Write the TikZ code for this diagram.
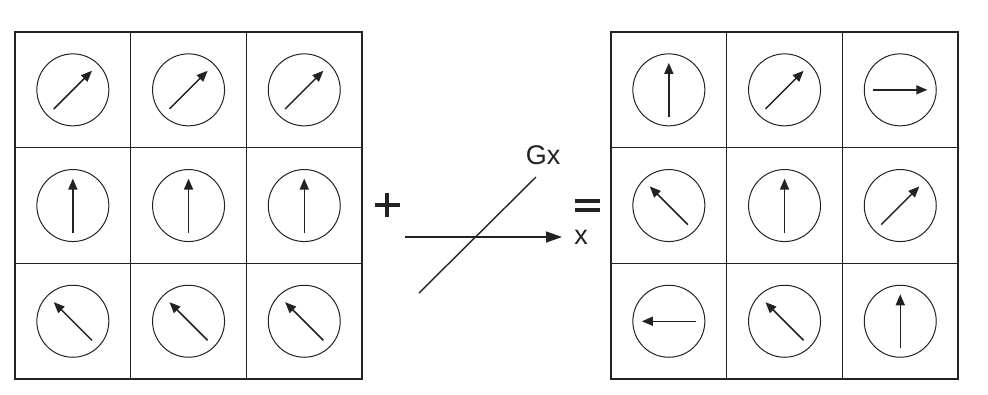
\documentclass[tikz,border=0pt]{standalone}
\usepackage{fontspec}
\setmainfont{Liberation Sans}
\usetikzlibrary{arrows.meta,calc}
\definecolor{ink}{HTML}{222222}
\newcommand\spingrid[3]{%
  \foreach \a [count=\i from 0] in {#3} {
    \pgfmathtruncatemacro\r{div(\i,3)}
    \pgfmathtruncatemacro\c{mod(\i,3)}
    \node[cellbox] (#1c\i) at ({#2+115.7*(\c+0.5)},{32+115.7*(\r+0.5)}) {};
    \node[dial] (#1d\i) at (#1c\i) {};
    \coordinate (#1s\i) at ($(#1d\i)+({-27*cos(\a)},{27*sin(\a)})$);
    \coordinate (#1e\i) at ($(#1d\i)+({27*cos(\a)},{-27*sin(\a)})$);
    \draw[spin] (#1s\i) -- (#1e\i);
  }}
\begin{document}
\begin{tikzpicture}[x=1pt,y=-1pt,
  cellbox/.style={draw=ink, line width=1.5pt, minimum width=115.7pt, minimum height=115.7pt, inner sep=0pt, outer sep=0pt},
  dial/.style={draw=ink, circle, line width=1pt, minimum size=72pt, inner sep=0pt},
  spin/.style={draw=ink, line width=1.5pt, -{Triangle[length=11pt,width=9pt]}},
  axis/.style={draw=ink, line width=1.4pt, -{Triangle[length=16pt,width=11pt]}},
  lbl/.style={font=\fontsize{27}{30}\selectfont, text=ink, inner sep=0pt},
  bar/.style={draw=ink, line width=4.5pt},
]
\useasboundingbox (0,0) rectangle (988,394);
\spingrid{L}{15}{45,45,45,90,90,90,135,135,135}
\spingrid{R}{611}{90,45,0,135,90,45,180,135,90}
% plus sign
\coordinate (plus) at (387,205);
\draw[bar] ($(plus)+(-12.5,0)$) -- ($(plus)+(12.5,0)$);
\draw[bar] ($(plus)+(0,-12)$) -- ($(plus)+(0,12)$);
% equals sign
\coordinate (eq1a) at (575,201); \coordinate (eq1b) at (600,201);
\coordinate (eq2a) at (575,210); \coordinate (eq2b) at (600,210);
\draw[draw=ink, line width=3.5pt] (eq1a) -- (eq1b);
\draw[draw=ink, line width=3.5pt] (eq2a) -- (eq2b);
% axis and gradient
\coordinate (ax0) at (405,237);
\coordinate (ax1) at (562,237);
\draw[axis] (ax0) -- (ax1);
\node[lbl] (xl) at (581,237) {x};
\coordinate (g0) at (419,293);
\coordinate (g1) at (536,177);
\draw[draw=ink, line width=1.4pt] (g0) -- (g1);
\node[lbl] (gl) at (543,155) {Gx};
\end{tikzpicture}
\end{document}
